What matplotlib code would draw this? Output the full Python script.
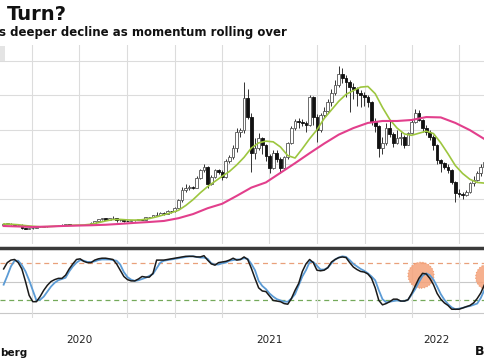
import matplotlib.pyplot as plt
import pandas as pd
from matplotlib.patches import Rectangle

# ---------- data (weekly candles) ----------
weeks = pd.date_range('2020-02-07', periods=133, freq='7D')

opens = [220, 265, 275, 250, 230, 240, 135, 130, 135, 150,
         165, 175, 195, 210, 205, 200, 205, 235, 240, 238,
         232, 228, 230, 240, 235, 305, 345, 395, 430, 390,
         435, 440, 370, 385, 355, 350, 365, 375, 405, 385,
         455, 460, 510, 520, 595, 560, 640, 630, 730, 950,
         1250, 1320, 1340, 1310, 1600, 1820, 1930, 1420, 1620, 1820,
         1780, 1620, 2080, 2200, 2480, 2940, 2990, 3920, 3370, 2330,
         2470, 2760, 2560, 2250, 1880, 2320, 2150, 1900, 2200, 2620,
         3050, 3250, 3230, 3200, 3150, 3950, 3380, 3000, 3420, 3560,
         3820, 4080, 4300, 4620, 4520, 4400, 4240, 4200, 4070, 4020,
         3960, 3810, 3230, 3100, 2470, 2620, 3050, 2870, 2630, 2760,
         2800, 2570, 2900, 3240, 3500, 3280, 3050, 2940, 2800, 2560,
         2120, 2030, 1920, 1830, 1480, 1160, 1130, 1100, 1200, 1440,
         1540, 1740, 1920]
highs = [280, 290, 285, 255, 255, 250, 150, 145, 160, 175,
         190, 215, 215, 215, 210, 220, 250, 250, 245, 240,
         235, 245, 245, 245, 315, 360, 400, 445, 440, 445,
         490, 445, 395, 390, 365, 375, 385, 415, 410, 460,
         475, 520, 620, 600, 600, 660, 650, 750, 1000, 1350,
         1420, 1400, 1380, 1650, 1870, 2000, 1950, 1700, 1870, 1870,
         1820, 2150, 2260, 2560, 3050, 3050, 4390, 4200, 3500, 2750,
         2900, 2800, 2600, 2300, 2400, 2400, 2200, 2250, 2650, 3100,
         3300, 3330, 3300, 3250, 4020, 3980, 3450, 3500, 3650, 3900,
         4200, 4450, 4860, 4800, 4600, 4450, 4350, 4250, 4150, 4100,
         4000, 3850, 3350, 3150, 2800, 3200, 3250, 2950, 3000, 2950,
         2850, 2950, 3300, 3610, 3580, 3300, 3150, 3000, 2850, 2600,
         2150, 2050, 2020, 1850, 1500, 1280, 1200, 1240, 1480, 1650,
         1790, 2000, 2120]
lows = [215, 255, 240, 215, 220, 110, 115, 125, 130, 145,
        160, 170, 185, 190, 190, 195, 200, 225, 225, 220,
        220, 225, 225, 230, 230, 300, 340, 380, 375, 385,
        420, 310, 360, 330, 335, 345, 360, 370, 375, 380,
        440, 455, 480, 510, 530, 550, 580, 620, 720, 900,
        1200, 1250, 1280, 1300, 1570, 1760, 1300, 1400, 1600, 1720,
        1550, 1600, 2030, 2150, 2350, 2800, 2900, 3300, 1770, 2150,
        2400, 2300, 2100, 1730, 1850, 2050, 1730, 1850, 2150, 2600,
        3000, 3050, 3100, 2950, 3100, 3150, 2650, 2950, 3350, 3500,
        3700, 4000, 4250, 4350, 3950, 3520, 3900, 3700, 3650, 3700,
        3650, 3150, 2950, 2200, 2300, 2550, 2800, 2500, 2580, 2550,
        2480, 2550, 2880, 3200, 3250, 2950, 2850, 2700, 2400, 2000,
        1770, 1850, 1750, 1420, 900, 1050, 1000, 1070, 1150, 1380,
        1500, 1660, 1860]
closes = [265, 275, 250, 230, 240, 135, 130, 135, 150, 165,
          175, 195, 210, 205, 200, 205, 235, 240, 238, 232,
          228, 230, 240, 235, 305, 345, 395, 430, 390, 435,
          440, 370, 385, 355, 350, 365, 375, 405, 385, 455,
          460, 510, 520, 595, 560, 640, 630, 730, 950, 1250,
          1320, 1340, 1310, 1600, 1820, 1930, 1420, 1620, 1820, 1780,
          1620, 2080, 2200, 2480, 2940, 2990, 3920, 3370, 2330, 2470,
          2760, 2560, 2250, 1880, 2320, 2150, 1900, 2200, 2620, 3050,
          3250, 3230, 3200, 3150, 3950, 3380, 3000, 3420, 3560, 3820,
          4080, 4300, 4620, 4520, 4400, 4240, 4200, 4070, 4020, 3960,
          3810, 3230, 3100, 2470, 2620, 3050, 2870, 2630, 2760, 2800,
          2570, 2900, 3240, 3500, 3280, 3050, 2940, 2800, 2560, 2120,
          2030, 1920, 1830, 1480, 1160, 1130, 1100, 1200, 1440, 1540,
          1740, 1920, 2060]

# moving averages, read every 2nd / 4th week
ma_fast = [262, 255, 240, 215, 195, 180, 185, 195, 205, 220,
           228, 233, 255, 300, 350, 390, 395, 380, 375, 385,
           420, 470, 530, 590, 660, 800, 970, 1170, 1350, 1500,
           1650, 1790, 1980, 2200, 2470, 2620, 2670, 2650, 2500, 2250,
           2180, 2450, 2740, 3000, 3330, 3580, 3830, 4030, 4140, 4240,
           4260, 4050, 3650, 3300, 3050, 2880, 2840, 2900, 2960, 2890,
           2620, 2300, 1960, 1730, 1560, 1470, 1450]
ma_slow = [203, 190, 175, 185, 203, 215, 225, 240, 265, 295,
           320, 350, 430, 550, 720, 850, 1080, 1320, 1470, 1750,
           2030, 2320, 2600, 2860, 3050, 3200, 3256, 3256, 3285, 3370,
           3360, 3200, 2990, 2730]

# stochastic oscillator (%K black, %D blue)
stoch_k = [70, 80, 84, 85, 80, 70, 50, 28, 18, 18,
           26, 36, 44, 50, 53, 55, 55, 60, 70, 78,
           85, 86, 82, 80, 80, 84, 86, 87, 87, 86,
           85, 78, 68, 58, 53, 51, 51, 54, 58, 57,
           57, 63, 84, 84, 84, 85, 86, 87, 88, 89,
           90, 90, 90, 89, 89, 91, 84, 78, 76, 80,
           81, 82, 84, 87, 84, 85, 89, 85, 71, 55,
           40, 35, 34, 27, 20, 19, 18, 15, 14, 23,
           36, 47, 66, 78, 85, 80, 68, 67, 68, 72,
           81, 85, 88, 89, 88, 80, 73, 69, 66, 65,
           62, 55, 40, 20, 13, 15, 18, 22, 22, 19,
           19, 21, 31, 43, 55, 63, 62, 55, 45, 31,
           22, 16, 12, 6, 6, 6, 8, 10, 12, 16,
           23, 32, 45]
stoch_d = [45, 59, 74, 83, 83, 76, 66, 52, 36, 20,
           21, 26, 34, 42, 48, 52, 54, 56, 66, 74,
           80, 84, 83, 81, 81, 82, 84, 85, 85, 85,
           84, 83, 77, 65, 57, 53, 51, 52, 54, 56,
           59, 62, 71, 80, 83, 84, 85, 86, 87, 88,
           89, 90, 90, 89, 88, 88, 86, 79, 77, 77,
           79, 80, 83, 84, 85, 85, 87, 86, 78, 68,
           51, 43, 38, 31, 26, 22, 20, 18, 18, 23,
           30, 44, 58, 68, 81, 81, 75, 69, 69, 72,
           79, 85, 88, 90, 89, 84, 78, 74, 70, 67,
           63, 58, 52, 36, 22, 17, 18, 19, 20, 19,
           19, 21, 29, 38, 49, 59, 63, 60, 53, 42,
           30, 21, 14, 9, 6, 7, 8, 10, 11, 13,
           15, 24, 37]

highlight_dates = pd.to_datetime(['2022-04-19', '2022-08-27'])
highlight_vals = [60, 57]

year_pos = pd.to_datetime(['2020-07-01', '2021-07-01', '2022-05-18'])
year_labels = ['2020', '2021', '2022']
quarters = pd.date_range('2020-04-01', '2022-07-01', freq='QS')

# ---------- figure ----------
W, H = 485, 360
fig = plt.figure(figsize=(W / 100, H / 100), dpi=100)
fig.patch.set_facecolor('white')

ax = fig.add_axes([0, 1 - 244 / H, 1, (244 - 45) / H])
ax2 = fig.add_axes([0, 1 - 318 / H, 1, (318 - 248) / H])
xmin, xmax = pd.Timestamp('2020-01-31'), pd.Timestamp('2022-08-20')
grid_c = '#dcdcdc'

# --- candles ---
for d, o, h, l, c in zip(weeks, opens, highs, lows, closes):
    ax.vlines(d, l, h, color='#333333', linewidth=0.7, zorder=3)
up = [c >= o for o, c in zip(opens, closes)]
bottoms = [min(o, c) for o, c in zip(opens, closes)]
heights = [max(abs(c - o), 12) for o, c in zip(opens, closes)]
ax.bar(weeks, heights, bottom=bottoms, width=5.2,
       color=['white' if u else '#111111' for u in up],
       edgecolor=['#555555' if u else '#111111' for u in up],
       linewidth=0.6, zorder=4)

ax.plot(weeks[::2], ma_fast, color='#9DC63F', linewidth=1.2, zorder=5)
ax.plot(weeks[::4], ma_slow, color='#E23F8C', linewidth=1.5, zorder=5)

ax.set_xlim(xmin, xmax)
ax.set_ylim(-320, 5465)
ax.set_yticks([0, 1000, 2000, 3000, 4000, 5000])
ax.set_xticks(quarters)
ax.grid(True, color=grid_c, linewidth=0.8)
ax.tick_params(left=False, bottom=False, labelleft=False, labelbottom=False)
for s in ax.spines.values():
    s.set_visible(False)

# --- oscillator panel ---
ax2.scatter(highlight_dates, highlight_vals, s=350, color='#F5A27A', alpha=0.85,
            edgecolors='#EE9466', linewidths=0.8, linestyle=':', clip_on=False, zorder=2)
ax2.axhline(80, color='#E9A07A', linestyle=(0, (4, 3)), linewidth=0.9, zorder=1)
ax2.axhline(20, color='#74A95A', linestyle=(0, (4, 3)), linewidth=0.9, zorder=1)
ax2.axhline(50, color='#c8c8c8', linewidth=0.8, zorder=1)
ax2.axhline(0, color='#c8c8c8', linewidth=0.8, zorder=1)
ax2.plot(weeks, stoch_d, color='#5B9BD5', linewidth=1.3, zorder=3)
ax2.plot(weeks, stoch_k, color='#1a1a1a', linewidth=1.1, zorder=4)

ax2.set_xlim(xmin, xmax)
ax2.set_ylim(-7.9, 103.2)
ax2.set_yticks([])
ax2.set_xticks(quarters, minor=True)
ax2.grid(True, which='minor', axis='x', color=grid_c, linewidth=0.8)
ax2.set_xticks(year_pos)
ax2.set_xticklabels(year_labels, fontsize=7.5, color='#222222')
ax2.tick_params(axis='x', which='both', length=0, pad=12)
for name, s in ax2.spines.items():
    s.set_visible(name == 'top')
ax2.spines['top'].set_color('#3a3a3a')
ax2.spines['top'].set_linewidth(2.5)

# --- texts ---
fig.text(7 / W, 1 - 20 / H, 'Turn?', fontsize=14, fontweight='bold', va='baseline', color='#111111')
fig.text(-1 / W, 1 - 36 / H, 's deeper decline as momentum rolling over',
         fontsize=8.5, fontweight='bold', va='baseline', color='#111111')
fig.text(0, 1 - 356 / H, 'berg', fontsize=7.5, fontweight='bold', va='baseline', color='#111111')
fig.text(475 / W, 1 - 355 / H, 'B', fontsize=9, fontweight='bold', va='baseline', color='#111111')
fig.patches.append(Rectangle((0, 1 - 61 / H), 5 / W, 15 / H, transform=fig.transFigure,
                             facecolor='#e4e4e4', edgecolor='none'))

fig.savefig('out.png', dpi=100)
